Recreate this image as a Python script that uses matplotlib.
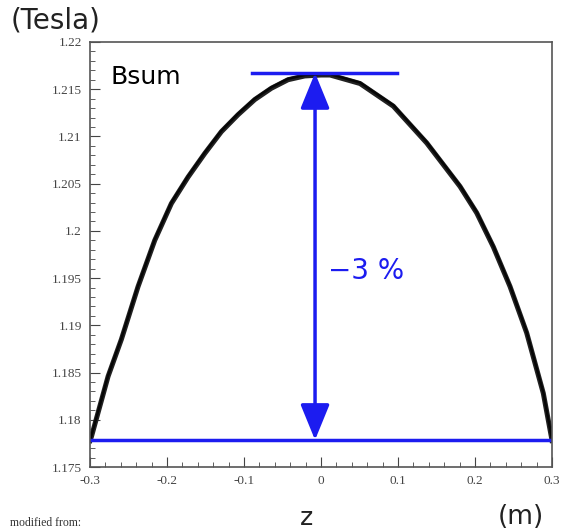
import numpy as np
import matplotlib.pyplot as plt
from matplotlib.ticker import MultipleLocator, FormatStrFormatter

# field profile
z_pos = [-0.3000, -0.2983, -0.2766, -0.2594, -0.2377, -0.2160, -0.1944, -0.1727,
         -0.1510, -0.1295, -0.1078, -0.0861, -0.0645, -0.0429, -0.0212, 0.0000,
         0.0117, 0.0506, 0.0939, 0.1373, 0.1805, 0.2022, 0.2238, 0.2455,
         0.2671, 0.2887, 0.2996, 0.3000]
b_sum = [1.1778, 1.1782, 1.1846, 1.1885, 1.1941, 1.1990, 1.2029, 1.2057,
         1.2082, 1.2105, 1.2123, 1.2139, 1.2151, 1.2160, 1.2164, 1.2165,
         1.2165, 1.2156, 1.2132, 1.2093, 1.2047, 1.2019, 1.1983, 1.1941,
         1.1892, 1.1828, 1.1780, 1.1778]
# second, nearly identical trace drawn on top
b_sum2 = [1.1779, 1.1783, 1.1847, 1.1886, 1.1942, 1.1991, 1.2030, 1.2058,
          1.2083, 1.2106, 1.2124, 1.2140, 1.2152, 1.2161, 1.2165, 1.2166,
          1.2166, 1.2157, 1.2133, 1.2094, 1.2048, 1.2020, 1.1984, 1.1942,
          1.1893, 1.1829, 1.1781, 1.1779]

B_MIN = 1.17786
B_MAX = 1.21672
Z_ARROW = -0.0078
TOP_SPAN = [-0.090, 0.099]

BLUE = "#1c1cf0"
TXT_FONT = "DejaVu Sans"
TICK_FONT = "Liberation Serif"

fig = plt.figure(figsize=(5.63, 5.31), dpi=100)
ax = fig.add_axes([0.160, 0.1205, 0.8205, 0.8005])

ax.plot(z_pos, b_sum, color="#222222", lw=3.6)
ax.plot(z_pos, b_sum2, color="black", lw=1.8, alpha=0.8)

ax.axhline(B_MIN, color=BLUE, lw=2.5)
ax.plot(TOP_SPAN, [B_MAX, B_MAX], color=BLUE, lw=2.5)
ax.annotate("", xy=(Z_ARROW, B_MAX), xytext=(Z_ARROW, B_MIN),
            arrowprops=dict(arrowstyle="<|-|>,head_length=1.1,head_width=0.45",
                            mutation_scale=20, lw=2.5, color=BLUE,
                            shrinkA=0, shrinkB=0))

ax.text(0.009, 1.1958, "\u22123 %", color=BLUE, fontsize=20,
        family=TXT_FONT, va="center", ha="left")
ax.text(-0.274, 1.2163, "Bsum", color="black", fontsize=18,
        family=TXT_FONT, va="center", ha="left")

ax.set_xlim(-0.3, 0.3)
ax.set_ylim(1.175, 1.22)
ax.xaxis.set_major_locator(MultipleLocator(0.1))
ax.xaxis.set_minor_locator(MultipleLocator(0.02))
ax.yaxis.set_major_locator(MultipleLocator(0.005))
ax.yaxis.set_minor_locator(MultipleLocator(0.001))
ax.xaxis.set_major_formatter(FormatStrFormatter("%g"))
ax.yaxis.set_major_formatter(FormatStrFormatter("%g"))
ax.tick_params(which="both", direction="in", top=False, right=False,
               labelsize=9.5, labelcolor="#444444", color="#444444")
ax.tick_params(which="major", length=7, width=0.8, pad=6)
ax.tick_params(which="minor", length=3.5, width=0.6)
for lab in ax.get_xticklabels() + ax.get_yticklabels():
    lab.set_family(TICK_FONT)
for sp in ax.spines.values():
    sp.set_color("#555555")
    sp.set_linewidth(1.2)

fig.text(0.018, 0.962, "(Tesla)", fontsize=20, family=TXT_FONT,
         color="#222222", ha="left", va="center")
fig.text(0.545, 0.024, "z", fontsize=18, family=TXT_FONT,
         color="#222222", ha="center", va="center")
fig.text(0.925, 0.026, "(m)", fontsize=19, family=TXT_FONT,
         color="#222222", ha="center", va="center")
fig.text(0.018, 0.003, "modified from:", fontsize=8.5, family=TICK_FONT,
         color="#333333", ha="left", va="bottom")

fig.savefig("out.png", dpi=100)
